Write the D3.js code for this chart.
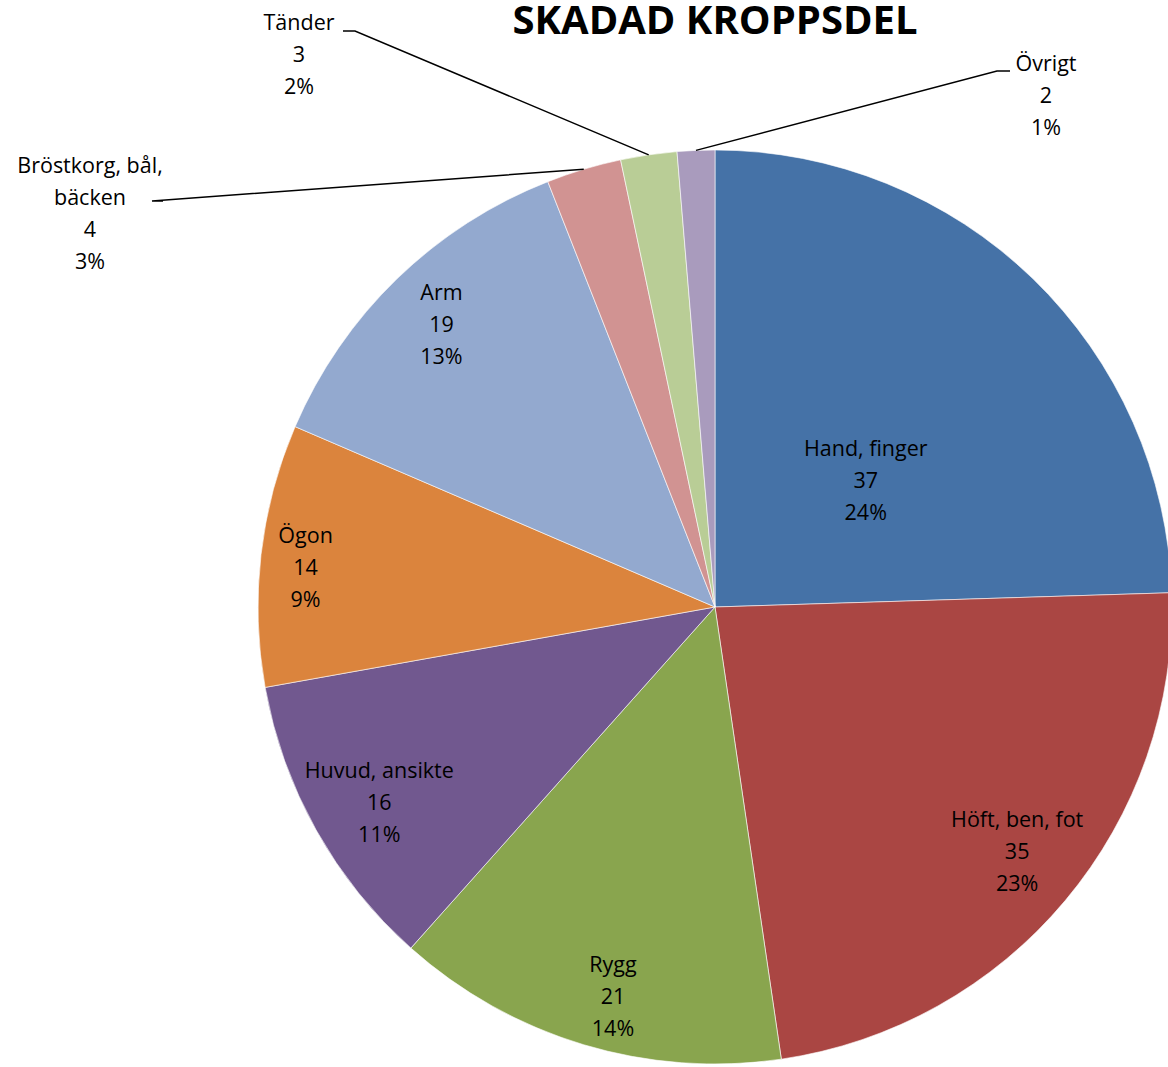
<!DOCTYPE html>
<html><head><meta charset="utf-8">
<script src="https://cdn.jsdelivr.net/npm/d3@7"></script>
<style>body{margin:0;background:#fff;} svg{display:block;}</style>
</head><body>
<script>
const categories = ["Hand, finger","Höft, ben, fot","Rygg","Huvud, ansikte","Ögon","Arm","Bröstkorg, bål, bäcken","Tänder","Övrigt"];
const values = [37,35,21,16,14,19,4,3,2];
const percentLabels = ["24%","23%","14%","11%","9%","13%","3%","2%","1%"];
const colors = ["#4572A7","#AA4643","#89A54E","#71588F","#DB843D","#93A9CF","#D19392","#B9CD96","#A99BBD"];
const title = "SKADAD KROPPSDEL";

// label layout config (radius fraction / angle shift in degrees for inside labels; null = outside with leader)
const labelRadius = [0.43,0.85,0.88,0.85,0.90,0.86,null,null,null];
const labelShift  = [6,-1,-2,-1,-1,0,0,0,0];
const outsideLabels = {
  6:{lines:["Bröstkorg, bål,","bäcken"], x:90, y:165, hook:[163,152,201]},
  7:{lines:["Tänder"], x:299, y:22, hook:[343,355,31]},
  8:{lines:["Övrigt"], x:1046, y:63, hook:[1010,997,71]}
};

const W=1168,H=1067, cx=715, cy=607, R=457, lineH=32;
const svg=d3.select("body").append("svg").attr("width",W).attr("height",H);
const font="'Open Sans', Lato, sans-serif";
const fs=21.5;

const data=categories.map((c,i)=>({c,v:values[i],p:percentLabels[i],i}));
const pie=d3.pie().value(d=>d.v).sort(null);
const arcs=pie(data);
const arc=d3.arc().innerRadius(0).outerRadius(R);
const g=svg.append("g").attr("transform",`translate(${cx},${cy})`);
g.selectAll("path").data(arcs).join("path").attr("d",arc).attr("fill",d=>colors[d.data.i])
  .attr("stroke","#fff").attr("stroke-width",0.6);

arcs.forEach(a=>{
  const i=a.data.i;
  const mid=(a.startAngle+a.endAngle)/2;
  if(labelRadius[i]!==null){
    const r=R*labelRadius[i];
    const ang=mid+labelShift[i]*Math.PI/180;
    const x=cx+r*Math.sin(ang), y=cy-r*Math.cos(ang);
    const lines=[a.data.c, String(a.data.v), a.data.p];
    const t=svg.append("text").attr("font-family",font).attr("font-size",fs).attr("fill","#000").attr("text-anchor","middle");
    lines.forEach((l,k)=>t.append("tspan").attr("x",x).attr("y",y+(k-1)*lineH).attr("dy","0.35em").text(l));
  } else {
    const o=outsideLabels[i];
    const lines=[...o.lines, String(a.data.v), a.data.p];
    const t=svg.append("text").attr("font-family",font).attr("font-size",fs).attr("fill","#000").attr("text-anchor","middle");
    lines.forEach((l,k)=>t.append("tspan").attr("x",o.x).attr("y",o.y+k*lineH).attr("dy","0.35em").text(l));
    const px=cx+R*Math.sin(mid), py=cy-R*Math.cos(mid);
    svg.append("path").attr("d",`M${o.hook[0]},${o.hook[2]}L${o.hook[1]},${o.hook[2]}L${px},${py}`)
      .attr("fill","none").attr("stroke","#000").attr("stroke-width",1.5);
  }
});

svg.append("text").attr("x",cx).attr("y",34).attr("text-anchor","middle")
  .attr("font-family","'Open Sans', sans-serif").attr("font-weight",700).attr("font-size",40).text(title);
</script>
</body></html>
